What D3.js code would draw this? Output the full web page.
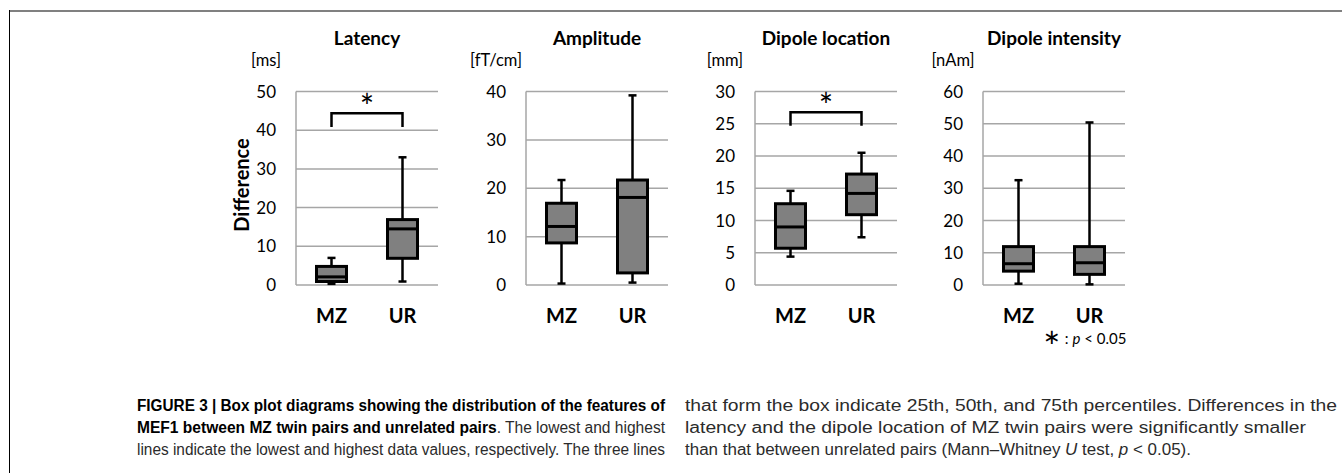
<!DOCTYPE html>
<html>
<head>
<meta charset="utf-8">
<script src="https://cdn.jsdelivr.net/npm/d3@7"></script>
<style>
  body { margin: 0; background: #fff; }
  svg { display: block; }
</style>
</head>
<body>
<script>
// groups and panel texts
const categories = ["MZ", "UR"]
const titles = ["Latency", "Amplitude", "Dipole location", "Dipole intensity"]
const units = ["[ms]", "[fT/cm]", "[mm]", "[nAm]"]
const yMax = [50, 40, 30, 60]
const yStep = [10, 10, 5, 10]

// [min, q1, median, q3, max] for MZ and UR
const latency = [[0.3, 0.9, 2.1, 4.8, 7.0], [0.9, 6.9, 14.5, 16.9, 33.0]]
const amplitude = [[0.3, 8.7, 12.1, 16.9, 21.7], [0.5, 2.5, 18.1, 21.7, 39.2]]
const dipoleLocation = [[4.4, 5.7, 9.0, 12.6, 14.6], [7.4, 10.9, 14.2, 17.2, 20.5]]
const dipoleIntensity = [[0.4, 4.3, 6.6, 11.9, 32.5], [0.2, 3.3, 6.9, 11.9, 50.4]]

// significance brackets: [leg bottom, bracket top], null = none
const brackets = [[40.8, 44.4], null, [24.7, 26.8], null]

const panels = [latency, amplitude, dipoleLocation, dipoleIntensity]

const W = 1342, H = 473
const panelLeft = [296, 526, 755, 983]
const plotW = 142, plotTop = 91.5, plotBottom = 285
const chartFont = "Lato, 'Open Sans', sans-serif"
const capFont = "'Liberation Sans Narrow', 'Arial Narrow', 'Liberation Sans', sans-serif"

const svg = d3.select("body").append("svg")
  .attr("width", W)
  .attr("height", H)

// figure frame
svg.append("line")
  .attr("x1", 9).attr("x2", W).attr("y1", 11).attr("y2", 11)
  .attr("stroke", "#808080").attr("stroke-width", 2)
svg.append("line")
  .attr("x1", 9.5).attr("x2", 9.5).attr("y1", 10).attr("y2", H)
  .attr("stroke", "#000").attr("stroke-width", 1)

panels.forEach((data, p) => {
  let left = panelLeft[p]
  let g = svg.append("g")

  let y = d3.scaleLinear()
    .domain([0, yMax[p]])
    .range([plotBottom, plotTop])

  let x = d3.scaleBand()
    .domain(categories)
    .range([left, left + plotW])

  let ticks = d3.range(0, yMax[p] + 0.001, yStep[p])

  // gridlines
  g.selectAll("line.grid")
    .data(ticks)
    .enter()
    .append("line")
    .attr("class", "grid")
    .attr("x1", left).attr("x2", left + plotW)
    .attr("y1", d => y(d)).attr("y2", d => y(d))
    .attr("stroke", "#a6a6a6").attr("stroke-width", 1.5)

  g.append("line")
    .attr("x1", left).attr("x2", left)
    .attr("y1", y(0)).attr("y2", y(yMax[p]))
    .attr("stroke", "#a6a6a6").attr("stroke-width", 1.5)

  // tick labels
  g.selectAll("text.tick")
    .data(ticks)
    .enter()
    .append("text")
    .attr("class", "tick")
    .attr("x", left - 20)
    .attr("y", d => y(d))
    .attr("dy", "0.36em")
    .attr("text-anchor", "end")
    .attr("font-family", chartFont)
    .attr("font-size", "17px")
    .attr("fill", "#000")
    .text(d => d)

  // title & unit
  g.append("text")
    .attr("x", left + plotW / 2)
    .attr("y", 45)
    .attr("text-anchor", "middle")
    .attr("font-family", chartFont)
    .attr("font-weight", "bold")
    .attr("font-size", "19px")
    .text(titles[p])

  g.append("text")
    .attr("x", left - 30)
    .attr("y", 66)
    .attr("text-anchor", "middle")
    .attr("font-family", chartFont)
    .attr("font-size", "16.5px")
    .text(units[p])

  // category labels
  g.selectAll("text.cat")
    .data(categories)
    .enter()
    .append("text")
    .attr("class", "cat")
    .attr("x", d => x(d) + x.bandwidth() / 2)
    .attr("y", 323)
    .attr("text-anchor", "middle")
    .attr("font-family", chartFont)
    .attr("font-weight", "bold")
    .attr("font-size", "20px")
    .text(d => d)

  // boxes
  let box = g.selectAll("g.box")
    .data(data)
    .enter()
    .append("g")
    .attr("class", "box")
    .attr("transform", (d, i) => "translate(" + (x(categories[i]) + x.bandwidth() / 2) + ",0)")

  box.append("line")
    .attr("x1", 0).attr("x2", 0)
    .attr("y1", d => y(d[0])).attr("y2", d => y(d[4]))
    .attr("stroke", "#000").attr("stroke-width", 2.5)

  box.selectAll("line.cap")
    .data(d => [d[0], d[4]])
    .enter()
    .append("line")
    .attr("class", "cap")
    .attr("x1", -4).attr("x2", 4)
    .attr("y1", d => y(d)).attr("y2", d => y(d))
    .attr("stroke", "#000").attr("stroke-width", 2.5)

  box.append("rect")
    .attr("x", -15)
    .attr("width", 30)
    .attr("y", d => y(d[3]))
    .attr("height", d => y(d[1]) - y(d[3]))
    .attr("fill", "#808080")
    .attr("stroke", "#000").attr("stroke-width", 3)

  box.append("line")
    .attr("x1", -15).attr("x2", 15)
    .attr("y1", d => y(d[2])).attr("y2", d => y(d[2]))
    .attr("stroke", "#000").attr("stroke-width", 3)

  // significance bracket
  if (brackets[p]) {
    let b = brackets[p]
    let x1 = x(categories[0]) + x.bandwidth() / 2
    let x2 = x(categories[1]) + x.bandwidth() / 2
    g.append("path")
      .attr("d", d3.line()([[x1, y(b[0])], [x1, y(b[1])], [x2, y(b[1])], [x2, y(b[0])]]))
      .attr("fill", "none")
      .attr("stroke", "#000").attr("stroke-width", 2.5)
    g.append("text")
      .attr("x", (x1 + x2) / 2)
      .attr("y", y(b[1]) + 6)
      .attr("text-anchor", "middle")
      .attr("font-family", chartFont)
      .attr("font-size", "34px")
      .text("*")
  }
})

// Y axis title
svg.append("text")
  .attr("transform", "translate(249,185) rotate(-90)")
  .attr("text-anchor", "middle")
  .attr("font-family", chartFont)
  .attr("font-weight", "bold")
  .attr("font-size", "20px")
  .text("Difference")

// significance legend
let leg = svg.append("text")
  .attr("x", 1043)
  .attr("y", 344)
  .attr("font-family", chartFont)
  .attr("font-size", "15px")
leg.append("tspan").attr("font-size", "21px").text("∗")
leg.append("tspan").text(" : ")
leg.append("tspan").attr("font-style", "italic").text("p")
leg.append("tspan").text(" < 0.05")

// caption
const captionLeft = [
  [["FIGURE 3 | Box plot diagrams showing the distribution of the features of", true]],
  [["MEF1 between MZ twin pairs and unrelated pairs", true], [". The lowest and highest", false]],
  [["lines indicate the lowest and highest data values, respectively. The three lines", false]]
]
const captionRight = [
  [["that form the box indicate 25th, 50th, and 75th percentiles. Differences in the", false, false]],
  [["latency and the dipole location of MZ twin pairs were significantly smaller", false, false]],
  [["than that between unrelated pairs (Mann\u2013Whitney ", false, false], ["U", false, true],
   [" test, ", false, false], ["p", false, true], [" < 0.05).", false, false]]
]
const leftWidths = [528, 528, 528]
const rightWidths = [652, 621, 506]

function drawCaption(lines, x0, widths) {
  lines.forEach((parts, i) => {
    let t = svg.append("text")
      .attr("x", x0)
      .attr("y", 411 + i * 22)
      .attr("font-family", capFont)
      .attr("font-size", "16px")
      .attr("textLength", widths[i])
      .attr("lengthAdjust", "spacingAndGlyphs")
    parts.forEach(part => {
      t.append("tspan")
        .attr("font-weight", part[1] ? "bold" : "normal")
        .attr("font-style", part[2] ? "italic" : "normal")
        .attr("fill", part[1] ? "#000" : "#2b2b2b")
        .text(part[0])
    })
  })
}
drawCaption(captionLeft, 137, leftWidths)
drawCaption(captionRight, 685, rightWidths)
</script>
</body>
</html>
